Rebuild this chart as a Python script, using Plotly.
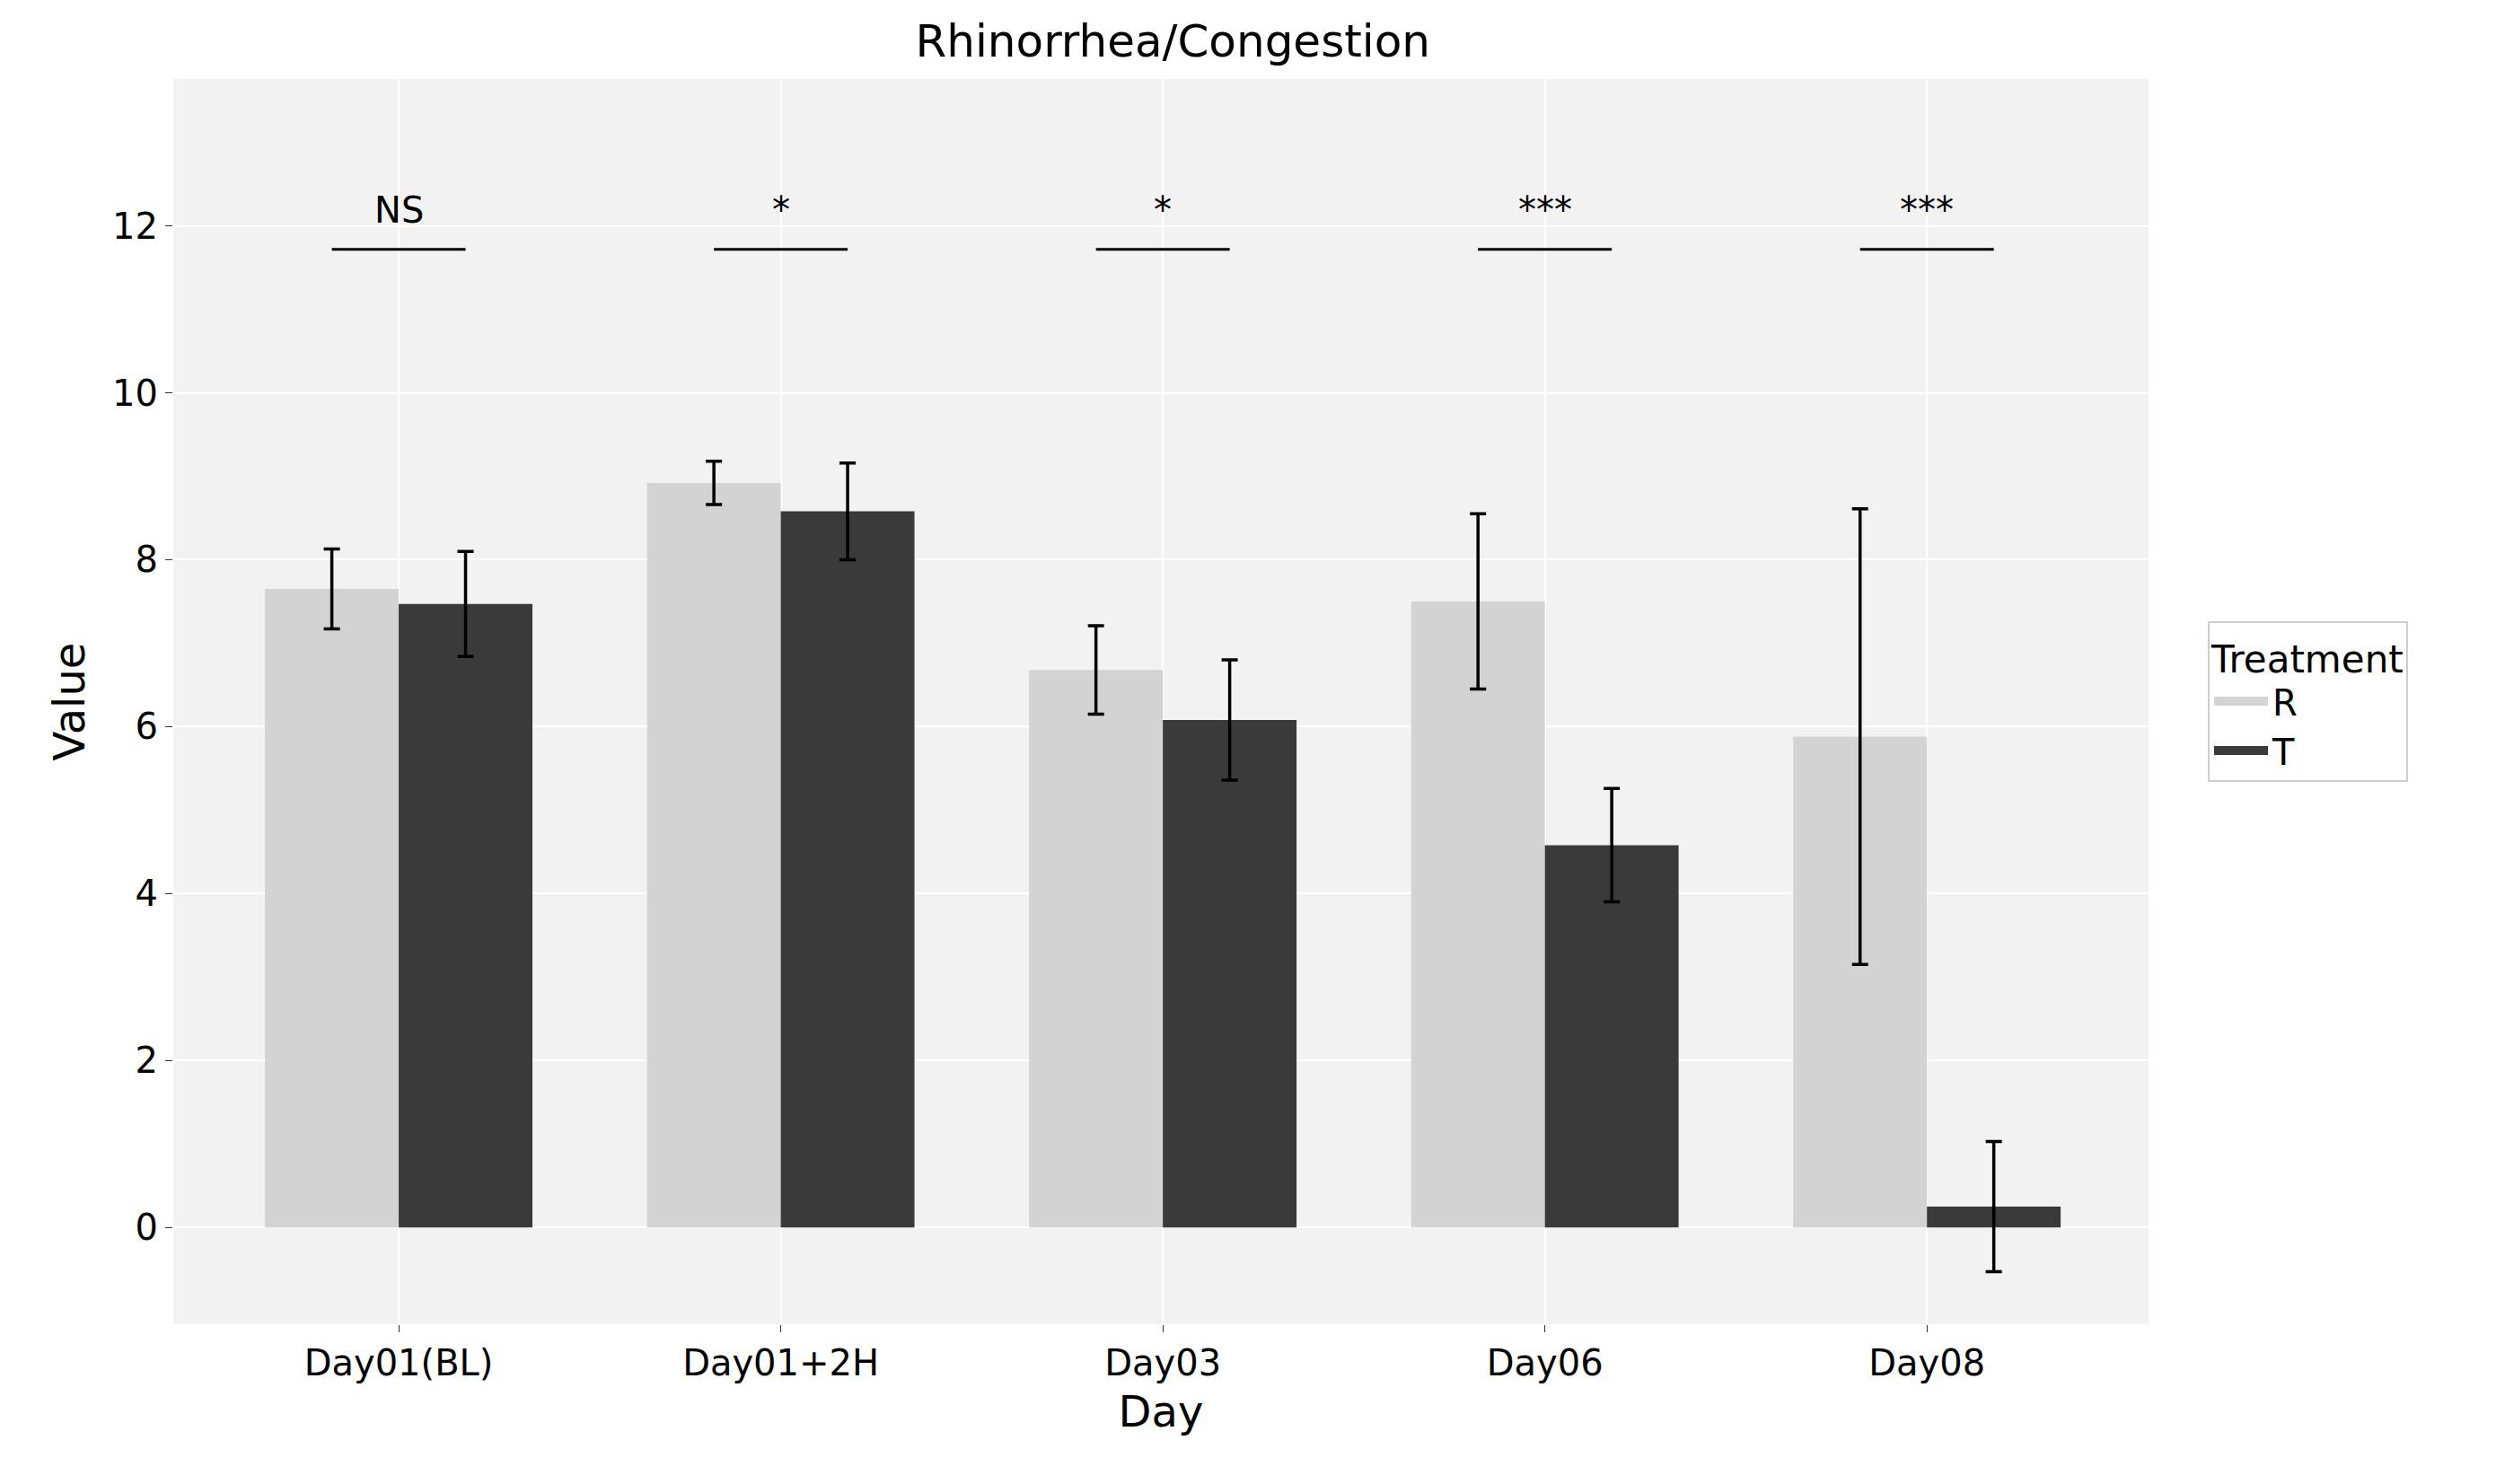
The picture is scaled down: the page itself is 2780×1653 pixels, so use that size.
import plotly.graph_objects as go

days = ["Day01(BL)", "Day01+2H", "Day03", "Day06", "Day08"]
r_vals = [7.65, 8.92, 6.68, 7.5, 5.88]
r_err = [0.48, 0.26, 0.53, 1.05, 2.73]
t_vals = [7.47, 8.58, 6.08, 4.58, 0.25]
t_err = [0.63, 0.58, 0.72, 0.68, 0.78]
sig = ["NS", "*", "*", "***", "***"]
sig_y = 11.72

font = "DejaVu Sans"
fig = go.Figure()
for name, vals, err, col in [("R", r_vals, r_err, "#d3d3d3"), ("T", t_vals, t_err, "#3a3a3a")]:
    fig.add_trace(go.Bar(
        x=days, y=vals, name=name, marker_color=col, marker_line_width=0, showlegend=False,
        error_y=dict(type="data", array=err, color="black", thickness=3.5, width=9),
    ))
    # thick line entry so the legend swatch looks like a filled rectangle
    fig.add_trace(go.Scatter(x=[None], y=[None], mode="lines", name=name,
                             line=dict(color=col, width=30)))

for i, s in enumerate(sig):
    fig.add_shape(type="line", xref="x", yref="y", x0=i - 0.175, x1=i + 0.175,
                  y0=sig_y, y1=sig_y, line=dict(color="black", width=3))
    fig.add_annotation(x=i, y=sig_y + 0.2, text=s, showarrow=False, yanchor="bottom",
                       font=dict(size=40, color="black", family=font))

fig.update_layout(
    width=2780, height=1653,
    barmode="group", bargap=0.3, bargroupgap=0,
    plot_bgcolor="#f2f2f2", paper_bgcolor="white",
    font=dict(family=font, size=40, color="black"),
    title=dict(text="Rhinorrhea/Congestion", x=0.467, xanchor="center", y=0.988,
               yanchor="top", font=dict(size=50)),
    margin=dict(l=185, r=395, t=80, b=186),
    legend=dict(title=dict(text="Treatment", font=dict(size=42)), x=1.03, xanchor="left",
                y=0.5, yanchor="middle", bordercolor="#cccccc", borderwidth=2,
                bgcolor="white", font=dict(size=40), itemwidth=60),
    xaxis=dict(title=dict(text="Day", font=dict(size=48)), range=[-0.59, 4.58],
               showgrid=True, gridcolor="white", gridwidth=2, ticks="outside",
               ticklen=8, tickcolor="#333", zeroline=False),
    yaxis=dict(title=dict(text="Value", font=dict(size=48)), range=[-1.16, 13.76],
               tickvals=[0, 2, 4, 6, 8, 10, 12], showgrid=True, gridcolor="white",
               gridwidth=2, ticks="outside", ticklen=8, tickcolor="#333", zeroline=False),
)
fig.write_html("out.html")
